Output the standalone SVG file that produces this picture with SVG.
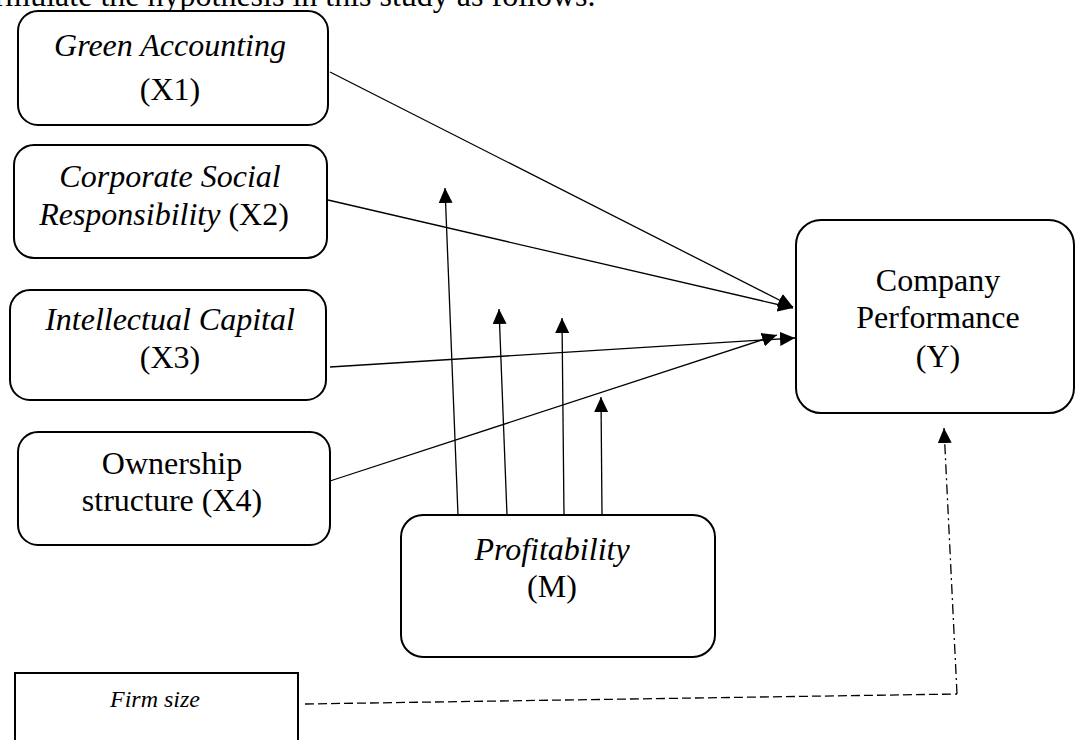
<svg xmlns="http://www.w3.org/2000/svg" width="1075" height="740" viewBox="0 0 1075 740">
<defs>
<style>
.box{fill:#fff;stroke:#000;stroke-width:2}
.t{font-family:"Liberation Serif","Times New Roman",serif;font-size:32px;fill:#000;text-anchor:middle}
.i{font-style:italic}
.ln{stroke:#000;stroke-width:1.3;fill:none}
.dash{stroke:#000;stroke-width:1.3;fill:none;stroke-dasharray:9 4}
.dd{stroke:#000;stroke-width:1.3;fill:none;stroke-dasharray:10 4 2 4}
</style>
<marker id="ah" markerUnits="userSpaceOnUse" markerWidth="15" markerHeight="14" refX="15" refY="7" orient="auto">
<path d="M0,0 L15,7 L0,14 z" fill="#000"/>
</marker>
</defs>
<rect width="1075" height="740" fill="#fff"/>
<text x="-32" y="6" class="t" style="text-anchor:start">formulate the hypothesis in this study as follows.</text>
<g id="connectors">
<line class="ln" x1="330" y1="72" x2="793" y2="307" marker-end="url(#ah)"/>
<line class="ln" x1="328" y1="200" x2="793" y2="308" marker-end="url(#ah)"/>
<line class="ln" x1="330" y1="367" x2="795" y2="338" marker-end="url(#ah)"/>
<line class="ln" x1="330" y1="481" x2="777" y2="335" marker-end="url(#ah)"/>
<line class="ln" x1="458" y1="515" x2="445" y2="188" marker-end="url(#ah)"/>
<line class="ln" x1="507" y1="515" x2="499" y2="309" marker-end="url(#ah)"/>
<line class="ln" x1="564" y1="515" x2="562" y2="318" marker-end="url(#ah)"/>
<line class="ln" x1="602" y1="515" x2="601" y2="397" marker-end="url(#ah)"/>
<line class="dash" x1="305" y1="704" x2="957" y2="694"/>
<line class="dd" x1="957" y1="694" x2="944" y2="428" marker-end="url(#ah)"/>
</g>
<g id="x1">
<rect class="box" x="18" y="11" width="310" height="114" rx="20"/>
<text class="t i" x="170" y="56">Green Accounting</text>
<text class="t" x="170" y="100">(X1)</text>
</g>
<g id="x2">
<rect class="box" x="14" y="145" width="313" height="113" rx="20"/>
<text class="t i" x="170" y="187">Corporate Social</text>
<text class="t" x="164" y="225"><tspan class="i">Responsibility</tspan> (X2)</text>
</g>
<g id="x3">
<rect class="box" x="10" y="290" width="316" height="110" rx="20"/>
<text class="t i" x="170" y="330">Intellectual Capital</text>
<text class="t" x="170" y="368">(X3)</text>
</g>
<g id="x4">
<rect class="box" x="18" y="432" width="312" height="113" rx="20"/>
<text class="t" x="172" y="474">Ownership</text>
<text class="t" x="172" y="511">structure (X4)</text>
</g>
<g id="m">
<rect class="box" x="401" y="515" width="314" height="142" rx="22"/>
<text class="t i" x="552" y="560">Profitability</text>
<text class="t" x="552" y="597">(M)</text>
</g>
<g id="y">
<rect class="box" x="796" y="220" width="278" height="193" rx="25"/>
<text class="t" x="938" y="291">Company</text>
<text class="t" x="938" y="328">Performance</text>
<text class="t" x="938" y="367">(Y)</text>
</g>
<g id="firmsize">
<rect class="box" x="15" y="673" width="283" height="80" rx="0"/>
<text class="t i" x="155" y="707" style="font-size:24px">Firm size</text>
</g>
</svg>
